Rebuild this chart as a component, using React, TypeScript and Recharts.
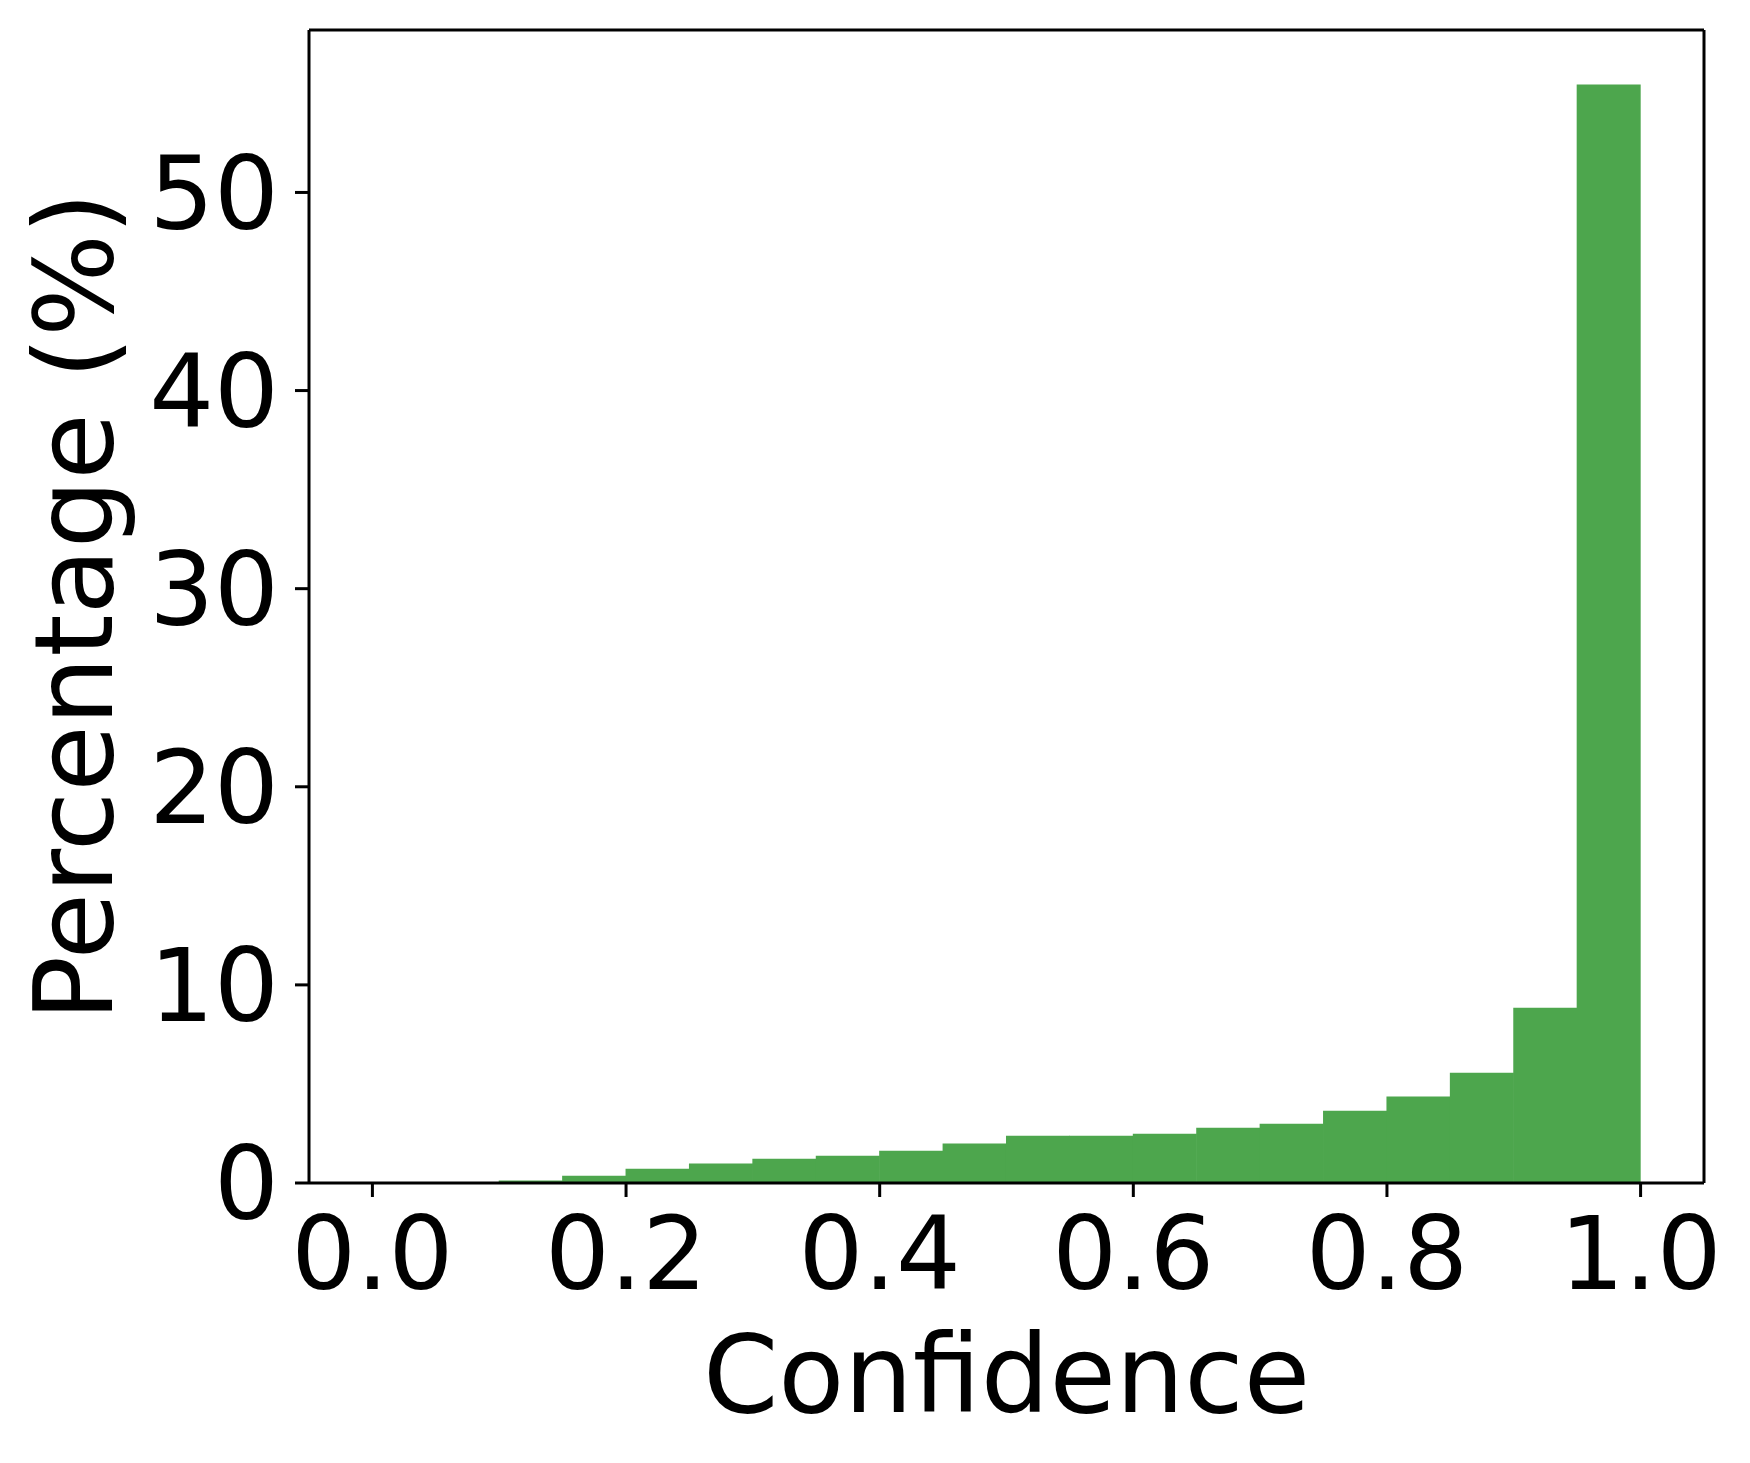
import { BarChart, Bar, XAxis, YAxis, Label, ReferenceLine, Rectangle } from 'recharts'

// histogram bins (left edge) and share of samples in each bin, in percent
const binStarts = [0.0, 0.05, 0.1, 0.15, 0.2, 0.25, 0.3, 0.35, 0.4, 0.45, 0.5, 0.55, 0.6, 0.65, 0.7, 0.75, 0.8, 0.85, 0.9, 0.95]
const percentages = [0, 0, 0.12, 0.37, 0.72, 0.98, 1.23, 1.38, 1.63, 1.99, 2.39, 2.39, 2.49, 2.79, 2.99, 3.65, 4.36, 5.57, 8.85, 55.45]
const binWidth = 0.05

const xTicks = [0, 0.2, 0.4, 0.6, 0.8, 1.0]
const yTicks = [0, 10, 20, 30, 40, 50]

const data = binStarts.map((start, i) => ({
  center: start + binWidth / 2,
  pct: percentages[i]
}))

const FONT = '"DejaVu Sans", sans-serif'
const W = 1750
const H = 1463
const LEFT = 309
const RIGHT = 46
const xDomain: [number, number] = [-0.05, 1.05]
const yMax = 58.2
// bar width in px = bin width through the x scale
const barPx = ((W - LEFT - RIGHT) / (xDomain[1] - xDomain[0])) * binWidth

// histogram bars touch each other: redraw each bar full bin wide around its centre
const HistBar = (props: any) => {
  const { x, y, width, height, fill } = props
  if (!height) return null
  const cx = x + width / 2
  return <Rectangle x={cx - barPx / 2 - 0.3} y={y} width={barPx + 0.6} height={height} fill={fill} />
}

const XLabel = (props: any) => {
  const vb = props.viewBox
  return (
    <text x={vb.x + vb.width / 2} y={vb.y + 229} textAnchor="middle" fontSize={108} fontFamily={FONT} fill="#000">
      Confidence
    </text>
  )
}

const YLabel = (props: any) => {
  const vb = props.viewBox
  const x = vb.x + 112
  const y = vb.y + vb.height / 2
  return (
    <text x={x} y={y} transform={`rotate(-90, ${x}, ${y})`} textAnchor="middle" fontSize={108} fontFamily={FONT} fill="#000">
      Percentage (%)
    </text>
  )
}

const axisLine = { stroke: '#000', strokeWidth: 3 }
const tickStyle = { fill: '#000', fontSize: 102, fontFamily: FONT }

export default function App() {
  return (
    <div style={{ position: 'absolute', left: 0, top: 0, width: W, height: H, background: '#fff' }}>
      <BarChart width={W} height={H} data={data} margin={{ top: 30, right: RIGHT, bottom: 0, left: 0 }} barCategoryGap={0} barGap={0}>
        <Bar dataKey="pct" fill="#4da64d" shape={HistBar} isAnimationActive={false} />
        <XAxis
          dataKey="center"
          type="number"
          domain={xDomain}
          ticks={xTicks}
          tickFormatter={(v: number) => v.toFixed(1)}
          height={280}
          tickSize={14}
          tickMargin={20}
          tick={tickStyle}
          axisLine={axisLine}
          tickLine={axisLine}
          allowDataOverflow
        >
          <Label content={XLabel} />
        </XAxis>
        <YAxis
          type="number"
          domain={[0, yMax]}
          ticks={yTicks}
          width={LEFT}
          tickSize={14}
          tickMargin={16}
          tick={tickStyle}
          axisLine={axisLine}
          tickLine={axisLine}
          allowDataOverflow
        >
          <Label content={YLabel} />
        </YAxis>
        <ReferenceLine y={yMax} stroke="#000" strokeWidth={3} />
        <ReferenceLine x={xDomain[1]} stroke="#000" strokeWidth={3} />
      </BarChart>
    </div>
  )
}
